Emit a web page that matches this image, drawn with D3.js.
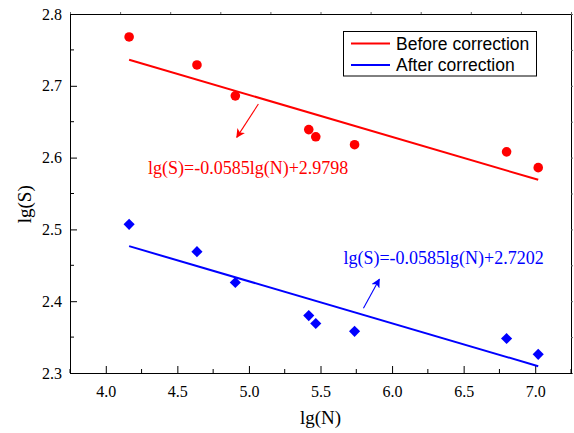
<!DOCTYPE html>
<html><head><meta charset="utf-8">
<script src="https://cdn.jsdelivr.net/npm/d3@7"></script>
<style>body{margin:0;background:#fff}svg{display:block}</style>
</head><body>
<script>
// ---- data ----
const lgN = [4.163, 4.637, 4.905, 5.418, 5.467, 5.738, 6.80, 7.021];
const beforeS = [2.768, 2.729, 2.686, 2.639, 2.629, 2.618, 2.608, 2.586];
const afterS = [2.507, 2.469, 2.426, 2.380, 2.369, 2.358, 2.348, 2.326];
const fitSlope = -0.0585;
const fitBefore = 2.9798;
const fitAfter = 2.7202;
const xTicks = [4.0, 4.5, 5.0, 5.5, 6.0, 6.5, 7.0];
const yTicks = [2.3, 2.4, 2.5, 2.6, 2.7, 2.8];
const legendLabels = ["Before correction", "After correction"];
const eqBefore = "lg(S)=-0.0585lg(N)+2.9798";
const eqAfter = "lg(S)=-0.0585lg(N)+2.7202";

const W = 574, H = 433;
const m = {l: 70, r: 3, t: 14, b: 60};
const svg = d3.select("body").append("svg").attr("width", W).attr("height", H);
const x = d3.scaleLinear().domain([3.75, 7.25]).range([m.l, W - m.r]);
const y = d3.scaleLinear().domain([2.3, 2.8]).range([H - m.b, m.t]);
const serif = "'Liberation Serif','Times New Roman',serif";
const sans = "'Liberation Sans',Arial,sans-serif";
const RED = "#ff0000", BLUE = "#0000ff";

svg.append("defs").selectAll("marker").data([["ar", RED], ["ab", BLUE]]).join("marker")
  .attr("id", d => d[0]).attr("viewBox", "0 0 10 10").attr("refX", 9).attr("refY", 5)
  .attr("markerWidth", 9).attr("markerHeight", 9).attr("markerUnits", "userSpaceOnUse")
  .attr("orient", "auto")
  .append("path").attr("d", "M0,0 L10,5 L0,10 L2.5,5 Z").attr("fill", d => d[1]);

// top & right auxiliary axes (tiny outward ticks)
const xt = d3.scaleLinear().domain([0, 10]).range(x.range());
const yr = d3.scaleLinear().domain([0, 10]).range(y.range());
svg.append("g").attr("transform", `translate(0,${y(2.8)})`)
  .call(d3.axisTop(xt).ticks(10).tickSize(2).tickFormat(""))
  .call(g => { g.select(".domain").attr("stroke", "#000").attr("stroke-width", 1.2); g.selectAll("line").attr("stroke", "#666"); });
svg.append("g").attr("transform", `translate(${x(7.25)},0)`)
  .call(d3.axisRight(yr).ticks(10).tickSize(2).tickFormat(""))
  .call(g => { g.select(".domain").attr("stroke", "#000").attr("stroke-width", 1.5); g.selectAll("line").attr("stroke", "#666"); });

// bottom axis
const xMinor = d3.range(3.75, 7.26, 0.25).filter(v => Math.abs((v * 2) % 1) > 0.01);
const xb = svg.append("g").attr("transform", `translate(0,${y(2.3)})`);
xb.call(d3.axisBottom(x).tickValues(xTicks).tickSize(-7).tickPadding(13).tickFormat(d3.format(".1f")));
xb.selectAll(".tick").data(xTicks);
xb.append("g").selectAll("line").data(xMinor).join("line")
  .attr("x1", d => x(d)).attr("x2", d => x(d)).attr("y1", 0).attr("y2", -4).attr("stroke", "#000");
xb.select(".domain").attr("stroke-width", 1.6);
xb.selectAll("text").attr("font-family", serif).attr("font-size", 16).attr("fill", "#000");

// left axis
const yMinor = d3.range(2.35, 2.8, 0.1);
const yl = svg.append("g").attr("transform", `translate(${x(3.75)},0)`);
yl.call(d3.axisLeft(y).tickValues(yTicks).tickSize(-7).tickPadding(8).tickFormat(d3.format(".1f")));
yl.append("g").selectAll("line").data(yMinor).join("line")
  .attr("y1", d => y(d)).attr("y2", d => y(d)).attr("x1", 0).attr("x2", 4).attr("stroke", "#000");
yl.select(".domain").attr("stroke-width", 1.6);
yl.selectAll("text").attr("font-family", serif).attr("font-size", 16).attr("fill", "#000");
svg.selectAll(".domain").attr("shape-rendering", "crispEdges");

// axis titles
svg.append("text").attr("x", x(5.5)).attr("y", 424).attr("text-anchor", "middle")
  .attr("font-family", serif).attr("font-size", 19).text("lg(N)");
svg.append("text").attr("transform", `translate(31,${y(2.535)}) rotate(-90)`).attr("text-anchor", "middle")
  .attr("font-family", serif).attr("font-size", 19).text("lg(S)");

// fit lines
const [n0, n1] = d3.extent(lgN);
const line = d3.line().x(d => x(d[0])).y(d => y(d[1]));
[[fitBefore, RED], [fitAfter, BLUE]].forEach(([b, c]) => {
  svg.append("path").attr("d", line([[n0, fitSlope * n0 + b], [n1, fitSlope * n1 + b]]))
    .attr("stroke", c).attr("stroke-width", 2).attr("fill", "none");
});

// points
svg.append("g").selectAll("circle").data(lgN).join("circle")
  .attr("cx", d => x(d)).attr("cy", (d, i) => y(beforeS[i])).attr("r", 4.8).attr("fill", RED);
const diamond = d3.symbol().type(d3.symbolSquare).size(62);
svg.append("g").selectAll("path").data(lgN).join("path")
  .attr("d", diamond).attr("fill", BLUE)
  .attr("transform", (d, i) => `translate(${x(d)},${y(afterS[i])}) rotate(45)`);

// annotations
svg.append("line").attr("x1", x(5.066)).attr("y1", y(2.6746)).attr("x2", x(4.915)).attr("y2", y(2.6282))
  .attr("stroke", RED).attr("stroke-width", 1.1).attr("marker-end", "url(#ar)");
svg.append("line").attr("x1", x(5.80)).attr("y1", y(2.3903)).attr("x2", x(5.911)).attr("y2", y(2.4306))
  .attr("stroke", BLUE).attr("stroke-width", 1.1).attr("marker-end", "url(#ab)");
svg.append("text").attr("x", x(4.295)).attr("y", y(2.5778)).attr("font-family", serif).attr("font-size", 18)
  .attr("fill", RED).text(eqBefore);
svg.append("text").attr("x", x(5.66)).attr("y", y(2.4514)).attr("font-family", serif).attr("font-size", 18)
  .attr("fill", BLUE).text(eqAfter);

// legend
const lg = svg.append("g").attr("transform", "translate(343.5,31.5)");
lg.append("rect").attr("width", 193).attr("height", 44.5).attr("fill", "#fff").attr("stroke", "#000").attr("stroke-width", 1);
legendLabels.forEach((t, i) => {
  const yy = 12 + i * 21.5;
  lg.append("line").attr("x1", 7.5).attr("x2", 46.5).attr("y1", yy).attr("y2", yy)
    .attr("stroke", i ? BLUE : RED).attr("stroke-width", 2);
  lg.append("text").attr("x", 52.5).attr("y", yy + 6).attr("font-family", sans).attr("font-size", 17.5).text(t);
});
</script>
</body></html>
